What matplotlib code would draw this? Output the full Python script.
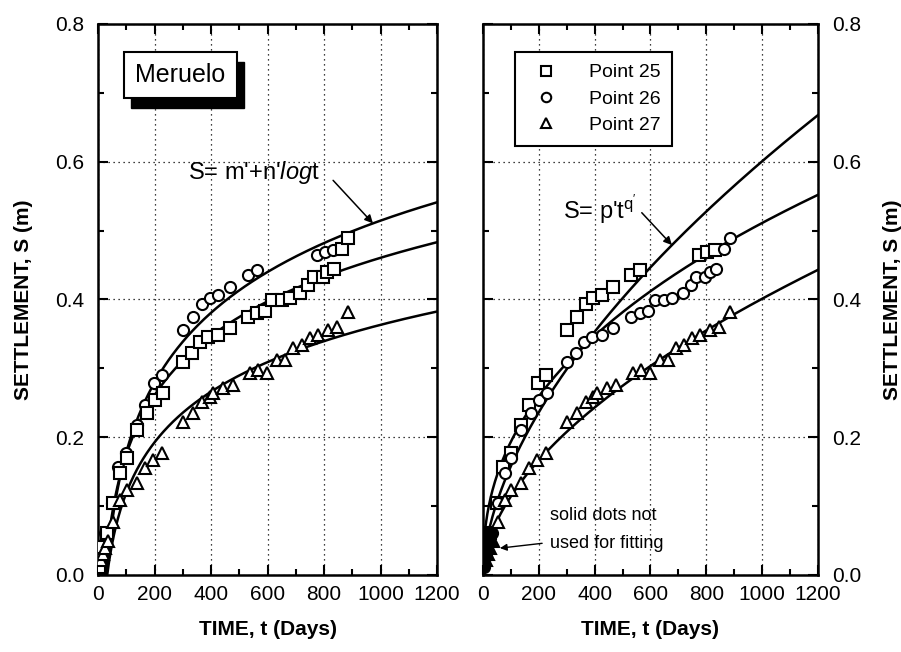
import numpy as np
import matplotlib
matplotlib.use('Agg')
import matplotlib.pyplot as plt
from matplotlib.patches import Rectangle
from matplotlib.ticker import MultipleLocator

plt.rcParams['font.family'] = ['Liberation Sans', 'DejaVu Sans']
plt.rcParams['mathtext.fontset'] = 'custom'
plt.rcParams['mathtext.rm'] = 'Liberation Sans'
plt.rcParams['mathtext.it'] = 'Liberation Sans:italic'

# ── Dados ────────────────────────────────────────────────────────────────────
# serie superior (circulos no painel esquerdo, quadrados no direito)
t_sup = [8, 11, 25, 50, 71, 99, 138, 166, 198, 226, 301, 337, 368, 396, 425,
         467, 531, 562, 775, 803, 832]
s_sup = [0.030, 0.041, 0.061, 0.104, 0.157, 0.177, 0.218, 0.247, 0.279, 0.290,
         0.355, 0.375, 0.393, 0.402, 0.406, 0.418, 0.436, 0.443, 0.465, 0.469,
         0.472]

# serie intermediaria (quadrados no esquerdo, circulos no direito)
t_med = [5, 10, 14, 32, 53, 78, 102, 138, 173, 202, 230, 301, 332, 361, 389,
         425, 467, 531, 562, 591, 615, 650, 679, 715, 744, 765, 795, 812, 835,
         864, 885]
s_med = [0.012, 0.028, 0.040, 0.061, 0.104, 0.148, 0.170, 0.211, 0.235, 0.254,
         0.264, 0.309, 0.322, 0.338, 0.346, 0.348, 0.358, 0.375, 0.380, 0.384,
         0.399, 0.399, 0.402, 0.409, 0.421, 0.433, 0.432, 0.440, 0.445, 0.474,
         0.490]

# Point 27 (triangulos)
t_27 = [10, 18, 25, 35, 53, 78, 102, 138, 166, 195, 226, 301, 336, 368, 396,
        408, 443, 478, 538, 567, 597, 633, 662, 691, 721, 750, 779, 815, 845,
        885]
s_27 = [0.022, 0.030, 0.039, 0.050, 0.077, 0.109, 0.123, 0.134, 0.155, 0.167,
        0.177, 0.222, 0.235, 0.251, 0.258, 0.264, 0.272, 0.276, 0.293, 0.298,
        0.293, 0.312, 0.312, 0.329, 0.334, 0.344, 0.348, 0.356, 0.360, 0.382]

# ajustes S = m' + n' ln t  (painel esquerdo)
m_log = [-0.494, -0.396, -0.369]
n_log = [0.146, 0.124, 0.106]

# ajustes S = p' t^q'  (painel direito)
p_pot = [0.01093, 0.0277, 0.00923]
q_pot = [0.58, 0.422, 0.546]

T_LIM_SOLIDO = 40   # pontos cheios (nao usados no ajuste)


def formatar_eixo(ax):
    ax.set_xlim(0, 1200)
    ax.set_ylim(0, 0.8)
    ax.xaxis.set_major_locator(MultipleLocator(200))
    ax.xaxis.set_minor_locator(MultipleLocator(100))
    ax.yaxis.set_major_locator(MultipleLocator(0.2))
    ax.yaxis.set_minor_locator(MultipleLocator(0.1))
    ax.yaxis.set_major_formatter(plt.FuncFormatter(lambda v, p: f'{v:.1f}'))
    ax.tick_params(which='both', direction='in', top=True, right=True,
                   labelsize=15, width=1.5)
    ax.tick_params(which='major', length=7, pad=7)
    ax.tick_params(axis='y', which='major', pad=10)
    ax.tick_params(which='minor', length=4)
    ax.grid(True, which='major', linestyle=(0, (1, 3)), color='k', lw=0.9)
    for sp in ax.spines.values():
        sp.set_linewidth(1.8)
    ax.set_xlabel('TIME, t (Days)', fontsize=15, fontweight='bold', labelpad=12)


fig = plt.figure(figsize=(9.01, 6.52), dpi=100)
ax1 = fig.add_axes([0.1088, 0.1181, 0.3763, 0.8451])
ax2 = fig.add_axes([0.536, 0.1181, 0.3718, 0.8451])

estilo = dict(ls='none', ms=8, mew=1.5, mec='k', mfc='white', zorder=3)

# ── Painel esquerdo: ajuste logaritmico ──────────────────────────────────────
formatar_eixo(ax1)
ax1.set_ylabel('SETTLEMENT, S (m)', fontsize=15, fontweight='bold',
               labelpad=16)
ax1.plot(t_sup, s_sup, marker='o', **estilo)
ax1.plot(t_med, s_med, marker='s', **estilo)
ax1.plot(t_27, s_27, marker='^', **estilo)

for m, n in zip(m_log, n_log):
    t0 = np.exp(-m / n)
    tt = np.linspace(t0, 1200, 400)
    ax1.plot(tt, m + n * np.log(tt), color='k', lw=1.8, zorder=2)

# caixa "Meruelo" com sombra
ax1.add_patch(Rectangle((0.098, 0.848), 0.333, 0.083, transform=ax1.transAxes,
                        facecolor='k', edgecolor='k', zorder=4))
ax1.add_patch(Rectangle((0.077, 0.866), 0.333, 0.083, transform=ax1.transAxes,
                        facecolor='white', edgecolor='k', lw=1.5, zorder=5))
ax1.text(0.2435, 0.9075, 'Meruelo', transform=ax1.transAxes, fontsize=18,
         ha='center', va='center', zorder=6)

ax1.text(552, 0.584, r"S= m'+n'$\mathit{log}$t", fontsize=17,
         ha='center', va='center')
t_seta = 973
ax1.annotate('', xy=(t_seta, m_log[0] + n_log[0] * np.log(t_seta)),
             xytext=(832, 0.573),
             arrowprops=dict(arrowstyle='-|>', color='k', lw=1.1,
                             mutation_scale=12, shrinkA=0, shrinkB=0))

# ── Painel direito: ajuste potencia ──────────────────────────────────────────
formatar_eixo(ax2)
ax2.yaxis.tick_right()
ax2.yaxis.set_label_position('right')
ax2.tick_params(which='both', left=True, labelleft=False, labelright=True)
ax2.set_ylabel('SETTLEMENT, S (m)', fontsize=15, fontweight='bold',
               rotation=90, labelpad=16)

series = [(t_sup, s_sup, 's', 'Point 25'),
          (t_med, s_med, 'o', 'Point 26'),
          (t_27, s_27, '^', 'Point 27')]
for t, s, mk, nome in series:
    t = np.array(t)
    s = np.array(s)
    aberto = t > T_LIM_SOLIDO
    ax2.plot(t[aberto], s[aberto], marker=mk, label=nome, **estilo)
    est_cheio = dict(estilo, mfc='k')
    ax2.plot(t[~aberto], s[~aberto], marker=mk, **est_cheio)

for p, q in zip(p_pot, q_pot):
    tt = np.linspace(1, 1200, 400)
    ax2.plot(tt, p * tt ** q, color='k', lw=1.8, zorder=2)

leg = ax2.legend(loc='upper left', bbox_to_anchor=(0.096, 0.949),
                 fontsize=14, frameon=True, fancybox=False, framealpha=1,
                 edgecolor='k', borderpad=0.6, labelspacing=0.45,
                 handletextpad=1.2, borderaxespad=0, markerscale=0.85)
leg.get_frame().set_linewidth(1.5)

ax2.text(419, 0.530, r"S= p't$^{\mathrm{q'}}$", fontsize=17,
         ha='center', va='center')
t_seta2 = 677
ax2.annotate('', xy=(t_seta2, p_pot[0] * t_seta2 ** q_pot[0]),
             xytext=(569, 0.526),
             arrowprops=dict(arrowstyle='-|>', color='k', lw=1.1,
                             mutation_scale=12, shrinkA=0, shrinkB=0))

ax2.text(240, 0.087, 'solid dots not', fontsize=13, ha='left', va='center')
ax2.text(240, 0.046, 'used for fitting', fontsize=13, ha='left', va='center')
ax2.annotate('', xy=(61, 0.039), xytext=(212, 0.046),
             arrowprops=dict(arrowstyle='-|>', color='k', lw=1.0,
                             mutation_scale=10, shrinkA=0, shrinkB=0))

fig.savefig('out.png', dpi=100)
